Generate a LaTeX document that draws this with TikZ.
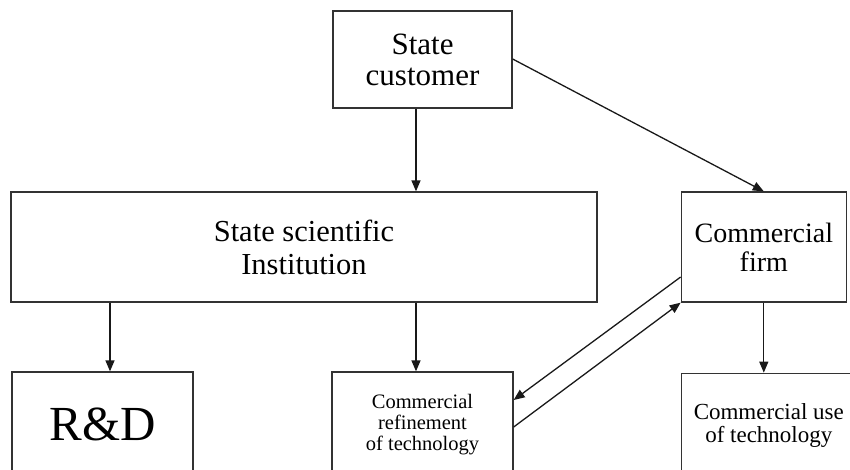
\documentclass[tikz,border=0pt]{standalone}
\usepackage{fontspec}
\setmainfont{Liberation Serif}
\usetikzlibrary{positioning, arrows.meta}

\begin{document}
\begin{tikzpicture}[
    x=1pt, y=1pt,
    every node/.style={align=center},
    block/.style={draw=black!80, line width=1.3pt, inner sep=0pt},
    arrow/.style={-{Triangle[length=11pt, width=9pt]}, line width=1.3pt, black!90}
]
\useasboundingbox (0,0) rectangle (850,-469);

% Nodes
\node[block, minimum width=179pt, minimum height=97pt, font=\fontsize{31}{31}\selectfont] (customer) at (422.5,-59.5) {State\\customer};
\node[block, minimum width=586pt, minimum height=110pt, font=\fontsize{30.5}{33}\selectfont] (institution) at (304,-247) {State scientific\\Institution};
\node[block, minimum width=165pt, minimum height=110pt, font=\fontsize{28}{29}\selectfont, right=83pt of institution] (firm) {Commercial\\firm};
\node[block, minimum width=181pt, minimum height=105pt, font=\fontsize{49}{50}\selectfont] (rnd) at (102.5,-424.5) {R\&D};
\node[block, minimum width=181pt, minimum height=105pt, font=\fontsize{20.5}{21}\selectfont] (refine) at (422.5,-424.5) {Commercial\\refinement\\of technology};
\node[block, minimum width=175pt, minimum height=105pt, font=\fontsize{23}{23}\selectfont, below=70pt of firm, xshift=5pt] (use) {Commercial use\\of technology};

% Arrows
\draw[arrow] ([xshift=-6.5pt]customer.south) -- ([xshift=-6.5pt]customer.south |- institution.north);
\draw[arrow] ([yshift=0.5pt]customer.east) -- (firm.north);
\draw[arrow] ([xshift=7.5pt]rnd.north |- institution.south) -- ([xshift=7.5pt]rnd.north);
\draw[arrow] ([xshift=-6.5pt]refine.north |- institution.south) -- ([xshift=-6.5pt]refine.north);
\draw[arrow] (firm.south) -- (firm.south |- use.north);
\draw[arrow] ([yshift=-30pt]firm.west) -- ([yshift=24.5pt]refine.east);
\draw[arrow] ([yshift=-2.5pt]refine.east) -- (firm.south west);

\end{tikzpicture}
\end{document}
